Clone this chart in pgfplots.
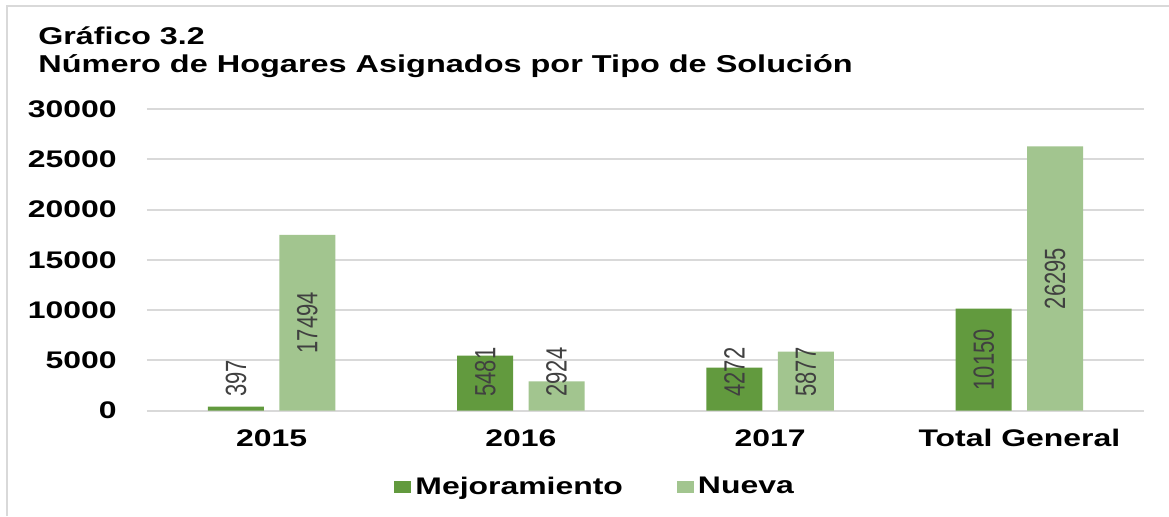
\documentclass[border=0pt]{standalone}
\usepackage{fontspec}
\setmainfont{Liberation Sans}[FakeStretch=1.33]
\newfontfamily\lblfont{Liberation Sans}
\usepackage{graphicx}
\usepackage{pgfplots}
\pgfplotsset{compat=1.18}
\definecolor{cDark}{HTML}{629A3E}
\definecolor{cLight}{HTML}{A2C58F}
\definecolor{gridGray}{HTML}{D9D9D9}
\definecolor{lblGray}{HTML}{404040}
\begin{document}
\begin{tikzpicture}
\path[use as bounding box, fill=white] (0,0) rectangle (584.5pt,258pt);
\draw[gridGray, line width=1pt] (3.25pt,0) -- (3.25pt,255.25pt) -- (584.5pt,255.25pt);
\node[anchor=base west, inner sep=0pt, font=\bfseries\fontsize{12.1}{14}\selectfont] at (19pt,236pt) {Gráfico 3.2};
\node[anchor=base west, inner sep=0pt, font=\bfseries\fontsize{12.2}{14}\selectfont] at (19pt,222pt) {Número de Hogares Asignados por Tipo de Solución};
\begin{axis}[
  at={(73.5pt,52.65pt)}, anchor=south west,
  scale only axis, width=498.5pt, height=150.85pt,
  xmin=-0.5, xmax=3.5, ymin=0, ymax=30000,
  xtick={0,1,2,3},
  xticklabels={2015,2016,2017,Total General},
  ytick={0,5000,10000,15000,20000,25000,30000},
  /pgf/number format/assume math mode=true,
  /pgf/number format/1000 sep={},
  scaled y ticks=false,
  tick label style={font=\bfseries\fontsize{12}{14}\selectfont, text=black},
  xticklabel style={anchor=base, inner sep=0pt, yshift=-18pt},
  yticklabel style={anchor=east, inner sep=0pt, xshift=-15pt},
  major tick length=0pt,
  axis line style={draw=none},
  ymajorgrids, major grid style={gridGray, line width=1pt},
  legend columns=2,
  legend image code/.code={\fill[#1] (0pt,-3.2pt) rectangle (8.5pt,3.2pt);},
  legend style={draw=none, fill=none, at={(0.4505,-0.2530)}, anchor=center,
    font=\bfseries\fontsize{12}{14}\selectfont,
    /tikz/every even column/.append style={column sep=25pt}},
  legend cell align=left,
]
\addplot[ybar, bar width=0.2247, bar shift=-0.143, fill=cDark, draw=none]
  coordinates {(0,397) (1,5481) (2,4272) (3,10150)};
\addlegendentry{Mejoramiento}
\addplot[ybar, bar width=0.2247, bar shift=0.143, fill=cLight, draw=none]
  coordinates {(0,17494) (1,2924) (2,5877) (3,26295)};
\addlegendentry{Nueva}
% labels at base (short bars)
\addplot[forget plot, draw=none, mark=none, point meta=explicit symbolic,
  nodes near coords={\scalebox{1}[1.33]{\pgfplotspointmeta}},
  every node near coord/.append style={font=\lblfont\fontsize{11}{12}\selectfont, text=lblGray, rotate=90, anchor=west, inner sep=0pt}]
  table[meta=lab] {
x y lab
-0.143 1362 397
0.857 1362 5481
1.143 1362 2924
1.857 1362 4272
2.143 1362 5877
};
% labels centred in bars
\addplot[forget plot, draw=none, mark=none, point meta=explicit symbolic,
  nodes near coords={\scalebox{1}[1.33]{\pgfplotspointmeta}},
  every node near coord/.append style={font=\lblfont\fontsize{11}{12}\selectfont, text=lblGray, rotate=90, anchor=center, inner sep=0pt}]
  table[meta=lab] {
x y lab
0.143 8747 17494
2.857 5075 10150
3.143 13147.5 26295
};
\end{axis}
\end{tikzpicture}
\end{document}
